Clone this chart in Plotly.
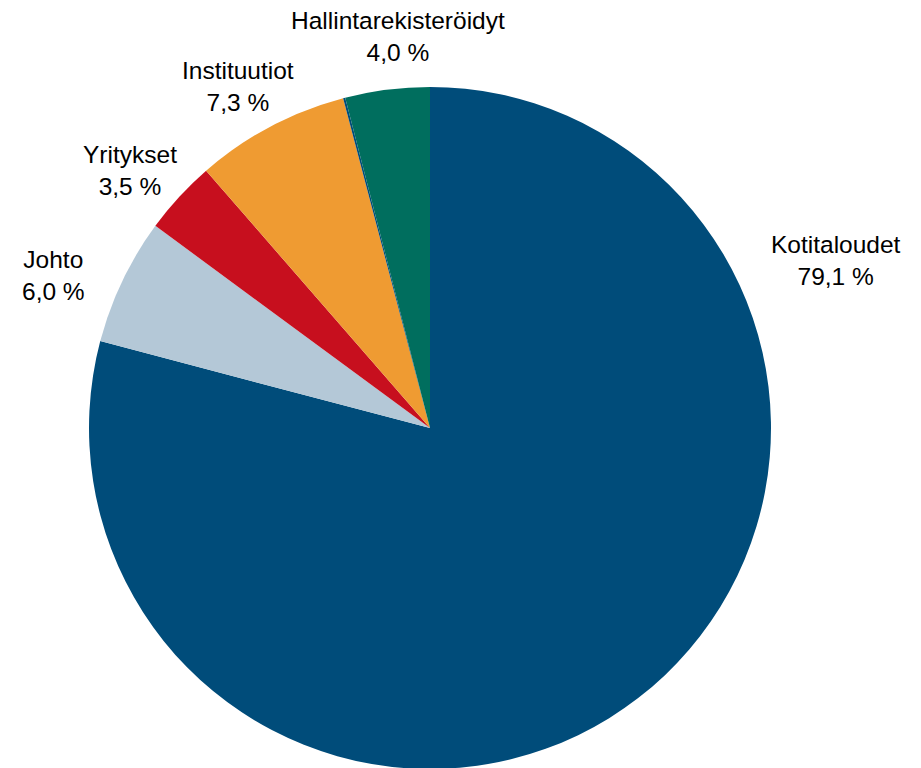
import plotly.graph_objects as go

labels = ["Kotitaloudet", "Johto", "Yritykset", "Instituutiot", "Muut", "Hallintarekisteröidyt"]
values = [79.1, 6.0, 3.5, 7.3, 0.1, 4.0]
colors = ["#004C7A", "#B4C8D7", "#C70F1E", "#EF9B32", "#004C7A", "#006E5E"]
show_label = [True, True, True, True, False, True]

# label centre positions in page pixels (layout only)
label_pos = {
    "Kotitaloudet": (836, 261),
    "Johto": (53, 276),
    "Yritykset": (130, 170),
    "Instituutiot": (238, 86),
    "Hallintarekisteröidyt": (398, 37),
}

W, H = 921, 768
OFF = 8  # default page body margin

fig = go.Figure(go.Pie(
    labels=labels,
    values=values,
    marker=dict(colors=colors, line=dict(width=0)),
    sort=False,
    direction="clockwise",
    rotation=0,
    textinfo="none",
    hoverinfo="label+percent",
    showlegend=False,
    domain=dict(x=[(89 - OFF) / W, (771 - OFF) / W],
                y=[(H - (769 - OFF)) / H, (H - (87 - OFF)) / H]),
))

for lab, val, show in zip(labels, values, show_label):
    if not show:
        continue
    px, py = label_pos[lab]
    txt = f"{lab}<br>{val:.1f} %".replace(".", ",")
    fig.add_annotation(
        x=(px - OFF) / W, y=1 - (py - OFF) / H, xref="paper", yref="paper",
        text=txt, showarrow=False, xanchor="center", yanchor="middle",
        font=dict(family="Liberation Sans, Arial, sans-serif", size=24.5, color="#000000"),
    )

fig.update_layout(
    width=W, height=H,
    margin=dict(l=0, r=0, t=0, b=0),
    paper_bgcolor="white",
    plot_bgcolor="white",
)

fig.write_html("out.html")
